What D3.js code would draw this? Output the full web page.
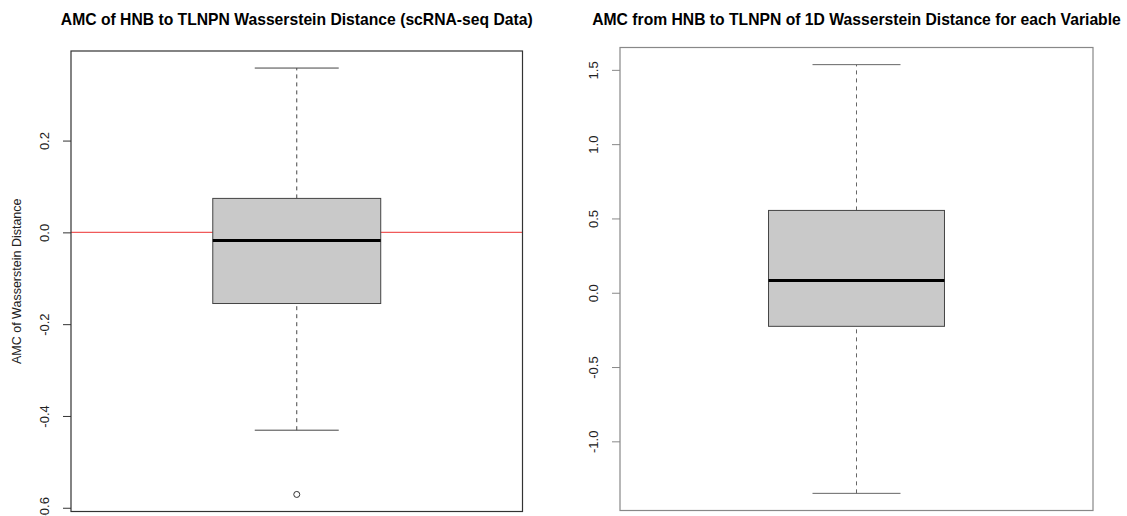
<!DOCTYPE html>
<html>
<head>
<meta charset="utf-8">
<script src="https://cdn.jsdelivr.net/npm/d3@7"></script>
<style>
  body { margin: 0; background: #fff; }
  text { font-family: "Liberation Sans", Arial, sans-serif; }
</style>
</head>
<body>
<div id="root"></div>
<script>
// box statistics: lower whisker, Q1, median, Q3, upper whisker
const scStats = [-0.431, -0.155, -0.0175, 0.074, 0.358];
const scOutliers = [-0.571];
const scTicks = [-0.6, -0.4, -0.2, 0.0, 0.2];

const varStats = [-1.35, -0.226, 0.083, 0.554, 1.535];
const varOutliers = [];
const varTicks = [-1.0, -0.5, 0.0, 0.5, 1.0, 1.5];

const panels = [
  { title: "AMC of HNB to TLNPN Wasserstein Distance (scRNA-seq Data)",
    ylab: "AMC of Wasserstein Distance",
    stats: scStats, outliers: scOutliers, ticks: scTicks, refLine: 0,
    x0: 71, x1: 522.5, y0: 51, y1: 511.5, frame: "#333", whisk: "#444" },
  { title: "AMC from HNB to TLNPN of 1D Wasserstein Distance for each Variable",
    ylab: null,
    stats: varStats, outliers: varOutliers, ticks: varTicks, refLine: null,
    x0: 620, x1: 1093, y0: 47.5, y1: 510.5, frame: "#888", whisk: "#666" }
];

const svg = d3.select("#root").append("svg")
  .attr("width", 1127).attr("height", 516);

panels.forEach(p => {
  const g = svg.append("g");
  const all = p.stats.concat(p.outliers);
  const lo = d3.min(all), hi = d3.max(all);
  const pad = (hi - lo) * 0.04;
  const y = d3.scaleLinear().domain([lo - pad, hi + pad]).range([p.y1, p.y0]);
  const cx = (p.x0 + p.x1) / 2;
  const boxHalf = (p.x1 - p.x0) * 0.186;
  const capHalf = boxHalf / 2;

  // title
  g.append("text")
    .attr("x", cx).attr("y", 25)
    .attr("text-anchor", "middle")
    .style("font-size", "15.7px").style("font-weight", "bold")
    .text(p.title);

  // reference line
  if (p.refLine !== null) {
    g.append("line")
      .attr("x1", p.x0).attr("x2", p.x1)
      .attr("y1", y(p.refLine)).attr("y2", y(p.refLine))
      .style("stroke", "#f05a5a").style("stroke-width", 1.2);
  }

  // whiskers
  const [wLo, q1, med, q3, wHi] = p.stats;
  [[wLo, q1], [q3, wHi]].forEach(seg => {
    g.append("line")
      .attr("x1", cx).attr("x2", cx)
      .attr("y1", y(seg[0])).attr("y2", y(seg[1]))
      .style("stroke", p.whisk).style("stroke-dasharray", "4,4");
  });
  [wLo, wHi].forEach(v => {
    g.append("line")
      .attr("x1", cx - capHalf).attr("x2", cx + capHalf)
      .attr("y1", y(v)).attr("y2", y(v))
      .style("stroke", p.whisk);
  });

  // box
  g.append("rect")
    .attr("x", cx - boxHalf).attr("y", y(q3))
    .attr("width", boxHalf * 2).attr("height", y(q1) - y(q3))
    .style("fill", "#c9c9c9").style("stroke", "#444");
  g.append("line")
    .attr("x1", cx - boxHalf).attr("x2", cx + boxHalf)
    .attr("y1", y(med)).attr("y2", y(med))
    .style("stroke", "#000").style("stroke-width", 3);

  // outliers
  g.selectAll(".out").data(p.outliers).enter()
    .append("circle")
    .attr("cx", cx).attr("cy", d => y(d)).attr("r", 3)
    .style("fill", "none").style("stroke", "#333");

  // frame
  g.append("rect")
    .attr("x", p.x0).attr("y", p.y0)
    .attr("width", p.x1 - p.x0).attr("height", p.y1 - p.y0)
    .style("fill", "none").style("stroke", p.frame).style("stroke-width", 1.2);

  // y axis
  const axis = g.append("g")
    .attr("transform", `translate(${p.x0},0)`)
    .call(d3.axisLeft(y).tickValues(p.ticks).tickSize(8).tickFormat(d => d.toFixed(1)));
  axis.select(".domain").remove();
  axis.selectAll(".tick line").style("stroke", p.frame);
  axis.selectAll(".tick text")
    .attr("x", null).attr("dy", null)
    .attr("text-anchor", "middle")
    .attr("transform", "translate(-22,0) rotate(-90)")
    .style("font-size", "13px").style("fill", "#222")
    .style("font-family", "'Liberation Sans', Arial, sans-serif");

  if (p.ylab) {
    g.append("text")
      .attr("transform", `translate(21,${(p.y0 + p.y1) / 2}) rotate(-90)`)
      .attr("text-anchor", "middle")
      .style("font-size", "12.5px").style("fill", "#222")
      .text(p.ylab);
  }
});
</script>
</body>
</html>
